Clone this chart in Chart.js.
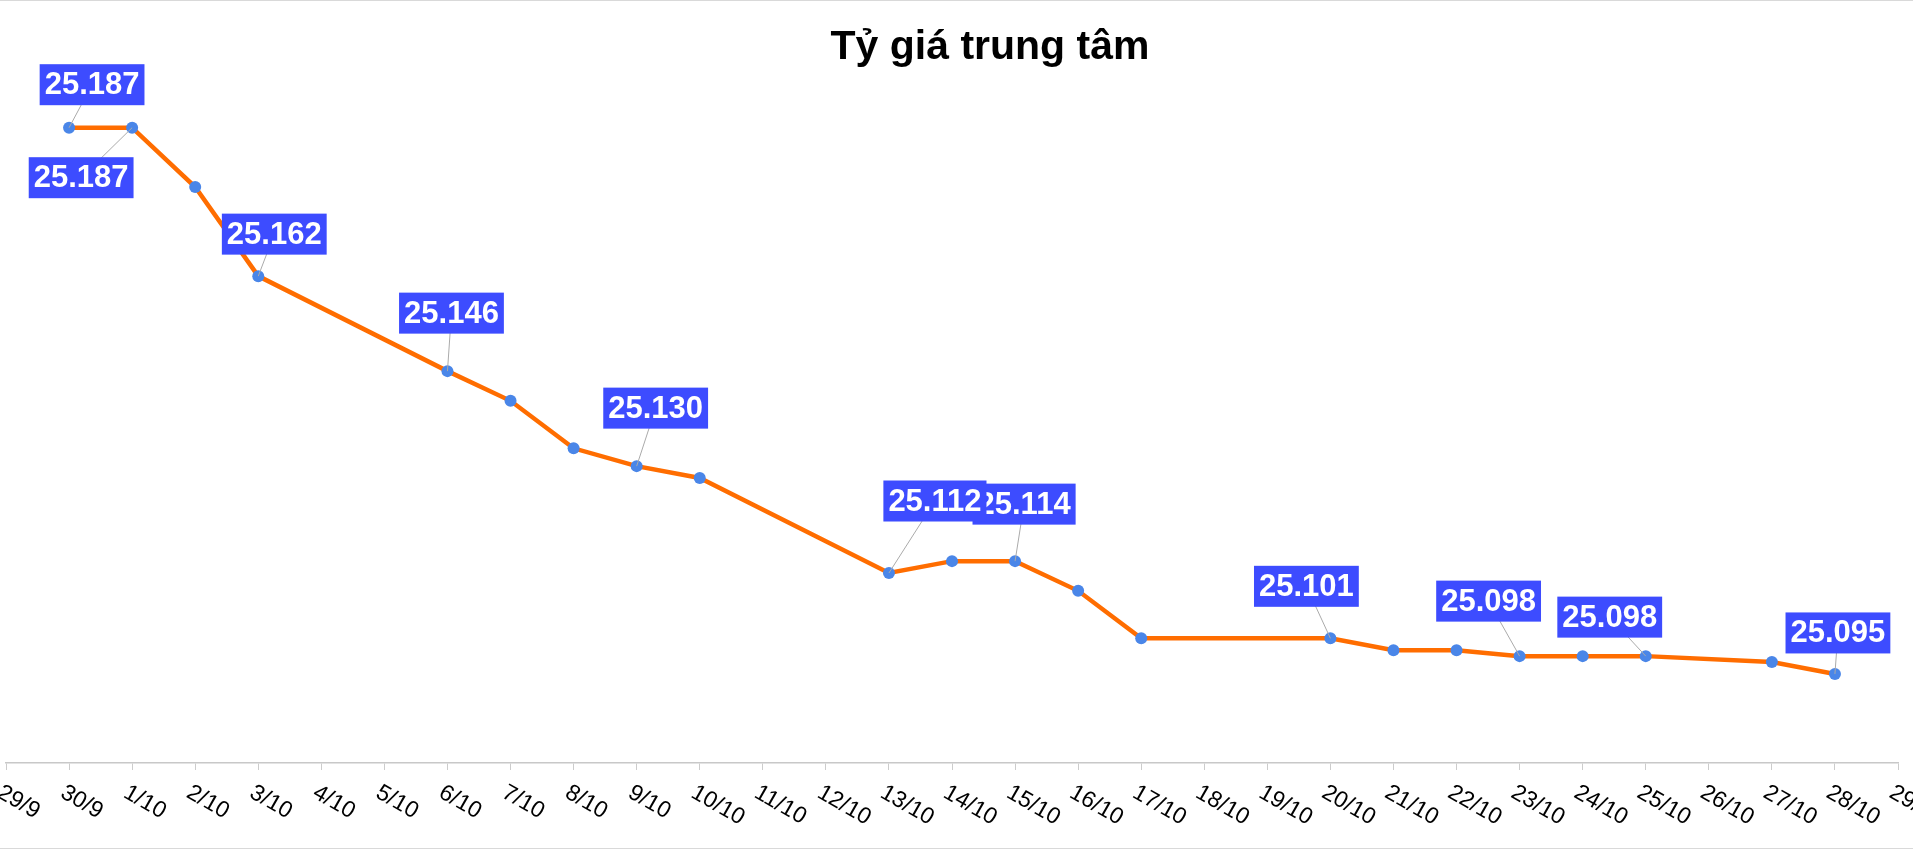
<!DOCTYPE html>
<html>
<head>
<meta charset="utf-8">
<title>Tỷ giá trung tâm</title>
<script src="https://cdn.jsdelivr.net/npm/chart.js@4.4.1/dist/chart.umd.min.js"></script>
<style>
  html, body { margin: 0; padding: 0; background: #fff; }
  #wrap {
    position: relative;
    width: 1913px;
    height: 847px;
    border-top: 1px solid #d9d9d9;
    border-bottom: 1px solid #d9d9d9;
  }
</style>
</head>
<body>
<div id="wrap"><canvas id="myChart"></canvas></div>
<script>
// every day on the axis
const tickLabels = ['29/9', '30/9', '1/10', '2/10', '3/10', '4/10', '5/10', '6/10', '7/10', '8/10',
  '9/10', '10/10', '11/10', '12/10', '13/10', '14/10', '15/10', '16/10', '17/10', '18/10',
  '19/10', '20/10', '21/10', '22/10', '23/10', '24/10', '25/10', '26/10', '27/10', '28/10', '29/10'];

// days with a published rate
const dates = ['30/9', '1/10', '2/10', '3/10', '6/10', '7/10', '8/10', '9/10', '10/10', '13/10', '14/10',
  '15/10', '16/10', '17/10', '20/10', '21/10', '22/10', '23/10', '24/10', '25/10', '27/10', '28/10'];
const rates = [25187, 25187, 25177, 25162, 25146, 25141, 25133, 25130, 25128, 25112, 25114,
  25114, 25109, 25101, 25101, 25099, 25099, 25098, 25098, 25098, 25097, 25095];

// which points get a value box
const labelledDates = ['30/9', '1/10', '3/10', '6/10', '9/10', '13/10', '15/10', '20/10', '23/10', '25/10', '28/10'];

// where each box sits relative to its point (px)
const labelOffsets = {
  '30/9': [23, -43], '1/10': [-51, 50], '3/10': [16, -42], '6/10': [4, -58],
  '9/10': [19, -58], '13/10': [46, -72], '15/10': [9, -57], '20/10': [-24, -52],
  '23/10': [-31, -55], '25/10': [-36, -39], '28/10': [3, -41]
};

const FONT = '"Liberation Sans", Arial, sans-serif';

function fmt(v) {
  return String(v).replace(/\B(?=(\d{3})+(?!\d))/g, '.');
}

// the title sits a bit right of centre in the original
const titleShift = {
  id: 'titleShift',
  afterLayout(chart) {
    if (chart.titleBlock) chart.titleBlock.left += 81;
  }
};

const valueBoxes = {
  id: 'valueBoxes',
  afterDatasetsDraw(chart) {
    const ctx = chart.ctx;
    const meta = chart.getDatasetMeta(0);
    ctx.save();
    ctx.font = 'bold 31px ' + FONT;
    ctx.textAlign = 'center';
    ctx.textBaseline = 'middle';
    // right to left, so earlier boxes end up on top
    for (let i = dates.length - 1; i >= 0; i--) {
      if (!labelledDates.includes(dates[i])) continue;
      const off = labelOffsets[dates[i]];
      const pt = meta.data[i];
      const cx = pt.x + off[0];
      const cy = pt.y + off[1];
      const text = fmt(rates[i]);
      const w = ctx.measureText(text).width + 10;
      const h = 41;
      ctx.strokeStyle = '#aaaaaa';
      ctx.lineWidth = 1;
      ctx.beginPath();
      ctx.moveTo(pt.x, pt.y);
      ctx.lineTo(cx, cy);
      ctx.stroke();
      ctx.fillStyle = '#3d4cff';
      ctx.fillRect(cx - w / 2, cy - h / 2, w, h);
      ctx.fillStyle = '#ffffff';
      ctx.fillText(text, cx, cy + 1);
    }
    ctx.restore();
  }
};

// x labels slanting down to the right
const slantedTicks = {
  id: 'slantedTicks',
  afterDraw(chart) {
    const x = chart.scales.x;
    const ctx = chart.ctx;
    ctx.save();
    ctx.font = '23px ' + FONT;
    ctx.fillStyle = '#000';
    ctx.textAlign = 'left';
    ctx.textBaseline = 'top';
    x.ticks.forEach((t, i) => {
      const px = x.getPixelForTick(i);
      ctx.save();
      ctx.translate(px - 1, x.top + 18);
      ctx.rotate(Math.PI / 6);
      ctx.fillText(x.getLabelForValue(t.value), 0, 0);
      ctx.restore();
    });
    ctx.restore();
  }
};

const myChart = new Chart(document.getElementById('myChart').getContext('2d'), {
  type: 'line',
  data: {
    labels: tickLabels,
    datasets: [{
      label: 'Tỷ giá trung tâm',
      data: dates.map((d, i) => ({ x: d, y: rates[i] })),
      borderColor: '#ff6d00',
      borderWidth: 4.5,
      pointRadius: 6,
      pointBorderWidth: 0,
      pointBackgroundColor: '#4a86e8',
      pointBorderColor: '#4a86e8',
      tension: 0,
      fill: false
    }]
  },
  options: {
    responsive: true,
    maintainAspectRatio: false,
    animation: false,
    layout: { padding: { left: 1, right: 15, top: 0, bottom: 78 } },
    plugins: {
      legend: { display: false },
      tooltip: { enabled: false },
      title: {
        display: true,
        text: 'Tỷ giá trung tâm',
        color: '#000',
        font: { family: FONT, size: 41, weight: 'bold', lineHeight: 1.2 },
        padding: { top: 22, bottom: 8 }
      }
    },
    scales: {
      x: {
        type: 'category',
        offset: false,
        grid: { drawOnChartArea: false, drawTicks: true, tickLength: 7, color: '#cccccc' },
        border: { color: '#c8c8c8', width: 1.5 },
        ticks: { display: false, autoSkip: false }
      },
      y: {
        display: false,
        min: 25080,
        max: 25195
      }
    }
  },
  plugins: [titleShift, valueBoxes, slantedTicks]
});
</script>
</body>
</html>
